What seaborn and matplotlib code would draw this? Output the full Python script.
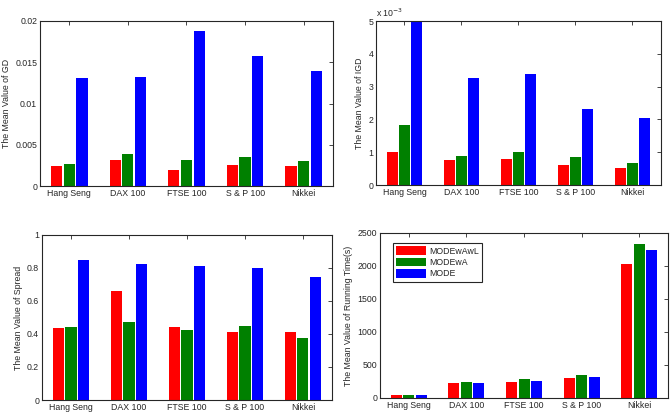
import matplotlib
matplotlib.use("Agg")
import matplotlib.pyplot as plt
import seaborn as sns
import pandas as pd
from matplotlib.ticker import FuncFormatter

markets = ["Hang Seng", "DAX 100", "FTSE 100", "S & P 100", "Nikkei"]
methods = ["MODEwAwL", "MODEwA", "MODE"]
colors = ["#ff0000", "#008000", "#0000ff"]

gd_awl = [0.00243, 0.00312, 0.00199, 0.00260, 0.00243]
gd_wa = [0.00264, 0.00385, 0.00312, 0.00349, 0.00308]
gd_mode = [0.0131, 0.01327, 0.01874, 0.01578, 0.01396]

igd_awl = [1.02e-3, 0.76e-3, 0.79e-3, 0.61e-3, 0.51e-3]
igd_wa = [1.84e-3, 0.90e-3, 1.02e-3, 0.84e-3, 0.68e-3]
igd_mode = [5.0e-3, 3.27e-3, 3.40e-3, 2.31e-3, 2.06e-3]

spread_awl = [0.434, 0.663, 0.442, 0.412, 0.412]
spread_wa = [0.442, 0.471, 0.422, 0.450, 0.376]
spread_mode = [0.848, 0.822, 0.812, 0.800, 0.747]

time_awl = [40, 228, 248, 309, 2028]
time_wa = [42, 248, 289, 350, 2333]
time_mode = [40, 228, 258, 319, 2246]

sns.set_style("white")
plt.rcParams["font.family"] = ["Liberation Sans", "DejaVu Sans"]
plt.rcParams["font.size"] = 6.3
FS = 6.3

def make_df(a, b, c):
    rows = []
    for vals, m in zip((a, b, c), methods):
        for mk, v in zip(markets, vals):
            rows.append({"market": mk, "method": m, "value": v})
    return pd.DataFrame(rows)

fig = plt.figure(figsize=(6.72, 4.2), dpi=100)
positions = [
    [0.0595, 0.557, 0.436, 0.393],
    [0.5595, 0.5595, 0.424, 0.390],
    [0.0625, 0.0476, 0.4315, 0.393],
    [0.5655, 0.0524, 0.4286, 0.393],
]
datasets = [
    (gd_awl, gd_wa, gd_mode, "The Mean Value of GD", (0, 0.02), [0, 0.005, 0.01, 0.015, 0.02], ["0", "0.005", "0.01", "0.015", "0.02"]),
    (igd_awl, igd_wa, igd_mode, "The Mean Value of IGD", (0, 5e-3), None, None),
    (spread_awl, spread_wa, spread_mode, "The Mean Value of Spread", (0, 1), [0, 0.2, 0.4, 0.6, 0.8, 1], ["0", "0.2", "0.4", "0.6", "0.8", "1"]),
    (time_awl, time_wa, time_mode, "The Mean Value of Running Time(s)", (0, 2500), [0, 500, 1000, 1500, 2000, 2500], ["0", "500", "1000", "1500", "2000", "2500"]),
]

for i, (pos, (a, b, c, ylab, ylim, yt, ytl)) in enumerate(zip(positions, datasets)):
    ax = fig.add_axes(pos)
    df = make_df(a, b, c)
    sns.barplot(data=df, x="market", y="value", hue="method", hue_order=methods,
                palette=colors, width=0.65, gap=0.12, ax=ax, legend=(i == 3),
                edgecolor="none", linewidth=0, saturation=1)
    ax.set_xlim(-0.5, 4.5)
    ax.set_ylim(*ylim)
    ax.set_xlabel("")
    ax.set_ylabel(ylab, fontsize=FS, labelpad=3)
    if yt is not None:
        ax.set_yticks(yt)
        ax.set_yticklabels(ytl)
    else:
        ax.set_yticks([0, 1e-3, 2e-3, 3e-3, 4e-3, 5e-3])
        ax.yaxis.set_major_formatter(FuncFormatter(lambda v, p: f"{v * 1e3:g}"))
        ax.text(0.0, 1.015, "x 10$^{-3}$", transform=ax.transAxes, fontsize=FS,
                ha="left", va="bottom", color="#262626")
    ax.tick_params(direction="in", length=3, width=0.6, top=True, right=True,
                   labelsize=FS, colors="#262626", pad=2)
    for s in ax.spines.values():
        s.set_color("#262626")
        s.set_linewidth(0.8)
        s.set_visible(True)
    if i == 3:
        leg = ax.legend(loc="upper left", bbox_to_anchor=(0.045, 0.94), borderaxespad=0,
                        fancybox=False, edgecolor="#262626", framealpha=1,
                        handlelength=3.4, handleheight=1.2, labelspacing=0.2,
                        handletextpad=0.3, borderpad=0.4, fontsize=FS)
        leg.get_frame().set_linewidth(0.8)

fig.savefig("out.png", dpi=100)
